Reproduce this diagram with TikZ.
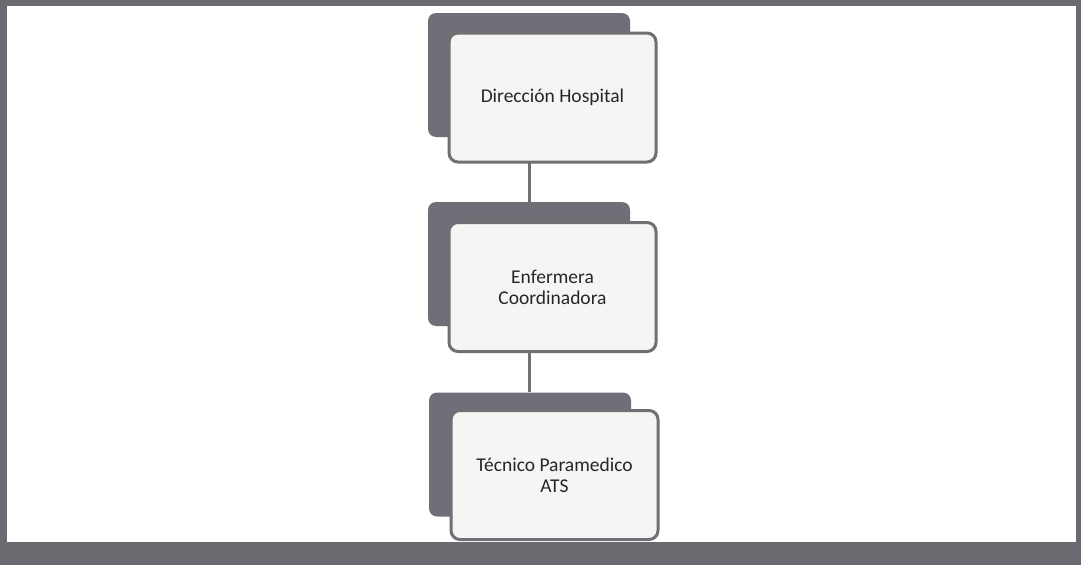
\documentclass[tikz,border=0pt]{standalone}
\usepackage{fontspec}
\setmainfont{Carlito}
\usetikzlibrary{positioning}
\definecolor{framegray}{HTML}{6A6A71}
\definecolor{backgray}{HTML}{6F6F78}
\definecolor{edgegray}{HTML}{707074}
\definecolor{paper}{HTML}{F5F5F4}

\begin{document}
\begin{tikzpicture}[x=1pt, y=-1pt,
  backbox/.style={fill=backgray, rounded corners=8pt, minimum width=202pt, minimum height=124pt, inner sep=0pt},
  frontbox/.style={draw=edgegray, line width=3pt, fill=paper, rounded corners=9pt, minimum width=207pt, minimum height=129pt, inner sep=0pt, align=center, font=\fontsize{19.5}{21}\selectfont, text=black!85},
  link/.style={draw=edgegray, line width=3pt}]

% frame and page
\fill[framegray] (0,0) rectangle (1081,565);
\fill[white] (7,6) rectangle (1076,542);

% back cards
\node[backbox] (dirB) at (529,75) {};
\node[backbox] (enfB) at (529,264) {};
\node[backbox] (tecB) at (530,454.5) {};

% connectors
\draw[link] (dirB.south) -- (dirB.south |- enfB.north);
\draw[link] (enfB.south) -- (enfB.south |- tecB.north);

% front cards
\node[frontbox] (dir) at (552.5,97.5) {Dirección Hospital};
\node[frontbox] (enf) at (552.5,287) {Enfermera\\Coordinadora};
\node[frontbox] (tec) at (554.5,475) {Técnico Paramedico\\ATS};

\end{tikzpicture}
\end{document}
